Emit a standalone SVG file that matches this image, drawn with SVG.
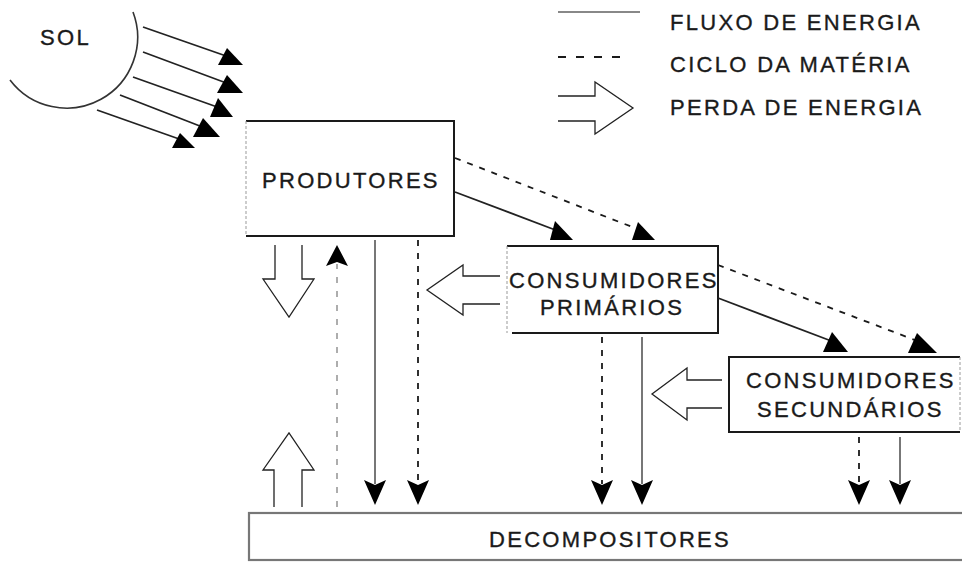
<svg xmlns="http://www.w3.org/2000/svg" width="962" height="562" viewBox="0 0 962 562">
<style>
  .t { font-family: "Liberation Sans", Arial, sans-serif; font-size: 22px; letter-spacing: 2.3px; fill: #1a1a1a; stroke: #1a1a1a; stroke-width: 0.35px; }
  .edge { fill: none; stroke: #1a1a1a; stroke-width: 2; }
  .soft { fill: none; stroke: #999; stroke-width: 1; stroke-dasharray: 3 2; }
  .flow { fill: none; stroke: #555; stroke-width: 1.6; }
  .cyc { fill: none; stroke: #1a1a1a; stroke-width: 1.8; stroke-dasharray: 6 7; }
  .cycg { fill: none; stroke: #999; stroke-width: 1.6; stroke-dasharray: 6 8; }
  .ray { fill: none; stroke: #222; stroke-width: 1.8; }
  .head { fill: #000; stroke: none; }
  .loss { fill: #fff; stroke: #222; stroke-width: 1.3; stroke-linejoin: miter; }
</style>
<rect width="962" height="562" fill="#fff"/>

<g id="sol">
  <path d="M10,80 A71,71 0 0 0 133,12" fill="none" stroke="#333" stroke-width="1.6"/>
  <text class="t" x="40" y="45">SOL</text>
</g>

<g id="legend">
  <line x1="558" y1="12" x2="640" y2="12" stroke="#888" stroke-width="2"/>
  <text class="t" x="670" y="30">FLUXO DE ENERGIA</text>
  <line x1="558" y1="57" x2="624" y2="57" stroke="#1a1a1a" stroke-width="2" stroke-dasharray="8 10"/>
  <text class="t" x="670" y="72">CICLO DA MATÉRIA</text>
  <path class="loss" d="M558,96 H595 V82 L633,108 L595,134 V121 H558"/>
  <text class="t" x="670" y="115">PERDA DE ENERGIA</text>
</g>

<g id="produtores">
  <path class="edge" d="M246,121 H454 V236 H246"/>
  <line class="soft" x1="246" y1="121" x2="246" y2="236"/>
  <text class="t" x="262" y="188">PRODUTORES</text>
</g>

<g id="consumidores-primarios">
  <path class="edge" d="M507,246 H718 V333 H512"/>
  <line class="soft" x1="507" y1="246" x2="507" y2="333"/>
  <text class="t" x="509" y="288">CONSUMIDORES</text>
  <text class="t" x="540" y="315">PRIMÁRIOS</text>
</g>

<g id="consumidores-secundarios">
  <path class="edge" d="M960,357 H729 V432 H960"/>
  <line class="soft" x1="960" y1="357" x2="960" y2="432"/>
  <text class="t" x="746" y="388">CONSUMIDORES</text>
  <text class="t" x="757" y="417">SECUNDÁRIOS</text>
</g>

<g id="decompositores">
  <rect x="249" y="513" width="730" height="47" fill="none" stroke="#777" stroke-width="2.2"/>
  <text class="t" x="489" y="547">DECOMPOSITORES</text>
</g>

<g id="connectors">
  <!-- sun rays -->
  <line class="ray" x1="143" y1="27" x2="229" y2="57"/>
  <polygon class="head" points="227,48 218,65 243,65"/>
  <line class="ray" x1="143" y1="52" x2="229" y2="84"/>
  <polygon class="head" points="227,75 217,93 243,93"/>
  <line class="ray" x1="133" y1="77" x2="220" y2="108"/>
  <polygon class="head" points="218,98 210,117 233,117"/>
  <line class="ray" x1="120" y1="95" x2="205" y2="128"/>
  <polygon class="head" points="203,118 193,137 220,137"/>
  <line class="ray" x1="97" y1="110" x2="182" y2="140"/>
  <polygon class="head" points="180,133 172,148 195,148"/>

  <!-- produtores -> consumidores primarios -->
  <line class="ray" x1="455" y1="192" x2="558" y2="231"/>
  <polygon class="head" points="555,221 550,240 573,240"/>
  <line class="cyc" x1="455" y1="158" x2="640" y2="230" stroke-width="1.4"/>
  <polygon class="head" points="638,222 632,240 655,240"/>

  <!-- consumidores primarios -> secundarios -->
  <line class="ray" x1="718" y1="298" x2="834" y2="342"/>
  <polygon class="head" points="832,332 823,352 848,352"/>
  <line class="cyc" x1="718" y1="265" x2="920" y2="342" stroke-width="1.4"/>
  <polygon class="head" points="917,333 908,353 937,353"/>

  <!-- down to decompositores -->
  <line class="flow" x1="375" y1="240" x2="375" y2="484"/>
  <polygon class="head" points="364,480 375,485 386,480 375,505"/>
  <line class="cyc" x1="418" y1="240" x2="418" y2="484"/>
  <polygon class="head" points="407,480 418,485 429,480 418,505"/>
  <line class="cyc" x1="602" y1="337" x2="602" y2="484"/>
  <polygon class="head" points="591,480 602,485 613,480 602,505"/>
  <line class="flow" x1="642" y1="337" x2="642" y2="484"/>
  <polygon class="head" points="631,480 642,485 653,480 642,505"/>
  <line class="cyc" x1="859" y1="437" x2="859" y2="484"/>
  <polygon class="head" points="848,480 859,485 870,480 859,505"/>
  <line class="flow" x1="900" y1="437" x2="900" y2="484"/>
  <polygon class="head" points="889,480 900,485 911,480 900,505"/>

  <!-- decompositores -> produtores (matter cycle) -->
  <line class="cycg" x1="337" y1="507" x2="337" y2="264"/>
  <polygon class="head" points="337,245 348,266 337,262 326,266"/>

  <!-- energy loss arrows -->
  <path class="loss" d="M275,245 V279 H263 L289,317 L314,279 H302 V245"/>
  <path class="loss" d="M274,507 V470 H263 L289,433 L314,470 H302 V507"/>
  <path class="loss" d="M500,276 H463 V265 L427,290 L463,315 V304 H500"/>
  <path class="loss" d="M722,380 H687 V368 L652,394 L687,420 V408 H722"/>
</g>
</svg>
